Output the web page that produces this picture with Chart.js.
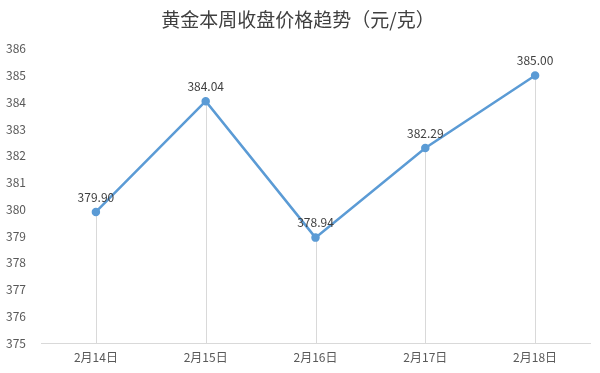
<!DOCTYPE html>
<html><head><meta charset="utf-8">
<script src="https://cdn.jsdelivr.net/npm/chart.js@4"></script>
<style>html,body{margin:0;padding:0;background:#fff}#wrap{width:600px;height:373px}</style>
</head><body><div id="wrap"><canvas id="c" width="600" height="373"></canvas></div>
<script>
const categories = ['2月14日','2月15日','2月16日','2月17日','2月18日'];
const prices = [379.90, 384.04, 378.94, 382.29, 385.00];
const yMin = 375, yMax = 386;
const titleText = '黄金本周收盘价格趋势（元/克）';
const FONT = '"Noto Sans CJK SC", "Noto Sans", sans-serif';

const dropLines = {
  id: 'dropLines',
  beforeDatasetsDraw(chart) {
    const meta = chart.getDatasetMeta(0);
    const bottom = chart.scales.y.getPixelForValue(yMin);
    const ctx = chart.ctx;
    ctx.save();
    ctx.strokeStyle = '#d9d9d9';
    ctx.lineWidth = 1;
    meta.data.forEach(p => {
      const x = Math.round(p.x) + 0.5;
      ctx.beginPath(); ctx.moveTo(x, p.y); ctx.lineTo(x, bottom); ctx.stroke();
    });
    ctx.restore();
  }
};
const valueLabels = {
  id: 'valueLabels',
  afterDatasetsDraw(chart) {
    const meta = chart.getDatasetMeta(0);
    const ctx = chart.ctx;
    ctx.save();
    ctx.fillStyle = '#404040';
    ctx.font = '12px ' + FONT;
    ctx.textAlign = 'center';
    ctx.textBaseline = 'middle';
    meta.data.forEach((p, i) => {
      ctx.fillText(prices[i].toFixed(2), p.x, p.y - 15);
    });
    ctx.restore();
  }
};

new Chart(document.getElementById('c'), {
  type: 'line',
  data: { labels: categories, datasets: [{
    data: prices, borderColor: '#5b9bd5', borderWidth: 2.5,
    pointRadius: 3, pointBackgroundColor: '#5b9bd5', pointBorderColor: '#5b9bd5',
    tension: 0
  }]},
  options: {
    responsive: false, animation: false,
    layout: { padding: { left: 6, right: 10, top: 0, bottom: 8 } },
    plugins: {
      legend: { display: false }, tooltip: { enabled: false },
      title: { display: true, text: titleText, color: '#404040',
        font: { family: FONT, size: 19, weight: 'normal' },
        padding: { top: 8, bottom: 18 } }
    },
    scales: {
      x: { offset: true,
        grid: { display: false, drawTicks: false },
        border: { display: true, color: '#d9d9d9', width: 1 },
        afterFit(s) { s.height = 22; },
        ticks: { color: '#595959', font: { family: FONT, size: 12 }, padding: 7 } },
      y: { min: yMin, max: yMax,
        grid: { display: false, drawTicks: false }, border: { display: false },
        afterFit(s) { s.width = 35; },
        ticks: { stepSize: 1, crossAlign: 'far', color: '#595959', font: { family: FONT, size: 12 } } }
    }
  },
  plugins: [dropLines, valueLabels]
});
</script></body></html>
